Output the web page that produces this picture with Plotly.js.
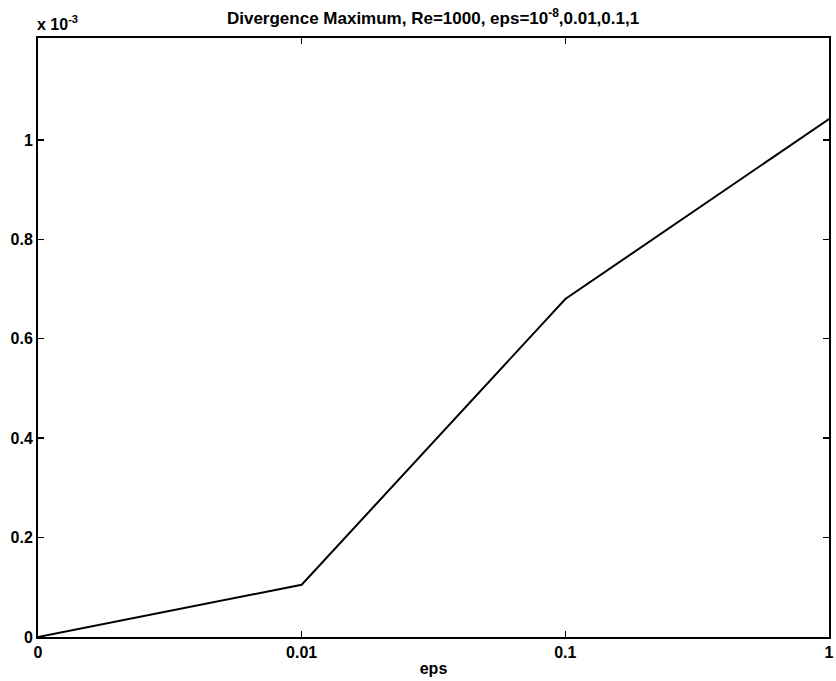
<!DOCTYPE html>
<html>
<head>
<meta charset="utf-8">
<script src="https://cdn.plot.ly/plotly-3.0.1.min.js"></script>
<style>html,body{margin:0;padding:0;background:#fff;}#chart{width:836px;height:681px;}</style>
</head>
<body>
<div id="chart"></div>
<script>
const epsLabels = ['0', '0.01', '0.1', '1'];
const epsIndex = [0, 1, 2, 3];
const divMax = [0.0, 0.105, 0.68, 1.042]; // in units of 1e-3
const yTicks = [0, 0.2, 0.4, 0.6, 0.8, 1];
const yTickText = ['0', '0.2', '0.4', '0.6', '0.8', '1'];

const font = {family: 'Liberation Sans, Arial, sans-serif', size: 16, color: '#000', weight: 'bold'};
const titleFont = {family: 'Liberation Sans, Arial, sans-serif', size: 17, color: '#000', weight: 'bold'};

const trace = {
  x: epsIndex, y: divMax, type: 'scatter', mode: 'lines',
  line: {color: '#000', width: 2}, hoverinfo: 'skip'
};

const layout = {
  width: 836, height: 681,
  margin: {l: 38, r: 7, t: 38, b: 44},
  paper_bgcolor: '#fff', plot_bgcolor: '#fff',
  showlegend: false,
  font: font,
  title: {text: 'Divergence Maximum, Re=1000, eps=10<sup>-8</sup>,0.01,0.1,1', font: titleFont,
          x: 0.518, xanchor: 'center', y: 0.973, yanchor: 'middle'},
  xaxis: {
    range: [0, 3], tickmode: 'array', tickvals: epsIndex, ticktext: epsLabels,
    ticks: 'inside', ticklen: 6, tickwidth: 1.5, tickcolor: '#000',
    showline: true, linecolor: '#000', linewidth: 2, mirror: 'allticks',
    showgrid: false, zeroline: false, tickfont: font,
    title: {text: 'eps', font: font, standoff: 3}
  },
  yaxis: {
    range: [0, 1.205], tickmode: 'array', tickvals: yTicks, ticktext: yTickText,
    ticks: 'inside', ticklen: 6, tickwidth: 1.5, tickcolor: '#000',
    showline: true, linecolor: '#000', linewidth: 2, mirror: 'allticks',
    showgrid: false, zeroline: false, tickfont: font
  },
  annotations: [{
    text: 'x 10<sup>-3</sup>', xref: 'paper', yref: 'paper', x: -0.004, y: 1.0,
    xanchor: 'left', yanchor: 'bottom', showarrow: false, font: font, yshift: 3
  }]
};

Plotly.newPlot('chart', [trace], layout, {displayModeBar: false, staticPlot: true});
</script>
</body>
</html>
